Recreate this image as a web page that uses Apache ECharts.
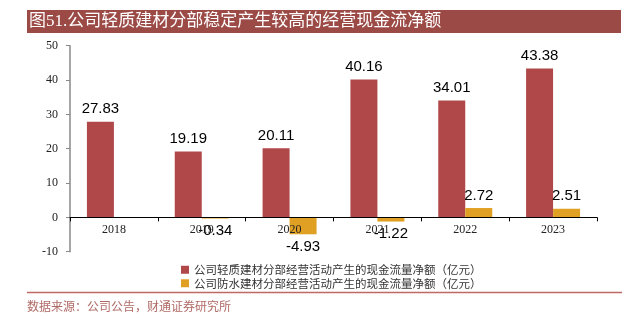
<!DOCTYPE html>
<html>
<head>
<meta charset="utf-8">
<script src="https://cdn.jsdelivr.net/npm/echarts@6/dist/echarts.min.js"></script>
<style>
  html, body { margin: 0; padding: 0; background: #fff; }
  #chart { width: 637px; height: 322px; }
</style>
</head>
<body>
<div id="chart"></div>
<script>
// Years on the category axis
const years = ['2018', '2019', '2020', '2021', '2022', '2023'];
// Net operating cash flow, light building materials segment (100m CNY)
const lightMaterials = [27.83, 19.19, 20.11, 40.16, 34.01, 43.38];
// Net operating cash flow, waterproofing segment (100m CNY); no 2018 figure
const waterproofing = [null, -0.34, -4.93, -1.22, 2.72, 2.51];
// Value axis ticks
const yTicks = { min: -10, max: 50, interval: 10 };

const titleText = '图51.公司轻质建材分部稳定产生较高的经营现金流净额';
const seriesNames = [
  '公司轻质建材分部经营活动产生的现金流量净额（亿元）',
  '公司防水建材分部经营活动产生的现金流量净额（亿元）'
];
const sourceText = '数据来源：公司公告，财通证券研究所';

const serif = '"Liberation Serif", "Noto Sans CJK SC", serif';
const cjk = '"Noto Sans CJK SC", sans-serif';
const numFont = '"Liberation Sans", "Noto Sans", sans-serif';

const chart = echarts.init(document.getElementById('chart'), null, { renderer: 'canvas' });

function labelFor(pos) {
  return {
    show: true,
    position: pos,
    distance: 5,
    color: '#000',
    fontFamily: numFont,
    fontSize: 15,
    formatter: p => (p.value === null || p.value === undefined) ? '' : p.value.toFixed(2)
  };
}

chart.setOption({
  animation: false,
  backgroundColor: '#fff',
  graphic: [
    {
      type: 'rect',
      shape: { x: 27, y: 10, width: 594, height: 23 },
      style: { fill: '#9B4A46' },
      silent: true
    },
    {
      type: 'text',
      x: 29, y: 21.5,
      style: {
        text: titleText,
        fill: '#fff',
        font: '17px ' + serif,
        verticalAlign: 'middle'
      }
    },
    {
      type: 'line',
      shape: { x1: 27, y1: 292.5, x2: 622, y2: 292.5 },
      style: { stroke: '#BD6A64', lineWidth: 1.5 }
    },
    {
      type: 'text',
      x: 27, y: 306,
      style: {
        text: sourceText,
        fill: '#B06A66',
        font: '12px ' + cjk,
        verticalAlign: 'middle'
      }
    }
  ],
  legend: {
    orient: 'vertical',
    left: 176,
    top: 259,
    itemWidth: 8,
    itemHeight: 8,
    itemGap: 2,
    icon: 'rect',
    textStyle: { fontFamily: cjk, fontSize: 11.5, color: '#333' },
    data: seriesNames
  },
  grid: { left: 70, right: 40, top: 45.7, bottom: 70.3, containLabel: false },
  xAxis: {
    type: 'category',
    data: years,
    z: 3,
    axisLine: { show: true, onZero: true, lineStyle: { color: '#000', width: 1 } },
    axisTick: { show: true, alignWithLabel: false, length: 4, lineStyle: { color: '#000' } },
    axisLabel: { color: '#222', fontFamily: serif, fontSize: 12, margin: -28 }
  },
  yAxis: {
    type: 'value',
    min: yTicks.min,
    max: yTicks.max,
    interval: yTicks.interval,
    axisLine: { show: true, lineStyle: { color: '#888', width: 1.5 } },
    axisTick: { show: true, length: 4, lineStyle: { color: '#888' } },
    splitLine: { show: false },
    axisLabel: { color: '#222', fontFamily: serif, fontSize: 12, margin: 12 }
  },
  series: [
    {
      name: seriesNames[0],
      type: 'bar',
      data: lightMaterials,
      barWidth: 27,
      barGap: '0%',
      itemStyle: { color: '#B0484A' },
      label: labelFor('top')
    },
    {
      name: seriesNames[1],
      type: 'bar',
      data: waterproofing.map(v => v === null ? null : {
        value: v,
        label: labelFor(v < 0 ? 'bottom' : 'top')
      }),
      barWidth: 27,
      barGap: '0%',
      itemStyle: { color: '#E0A024' },
      label: labelFor('top')
    }
  ]
});
</script>
</body>
</html>
